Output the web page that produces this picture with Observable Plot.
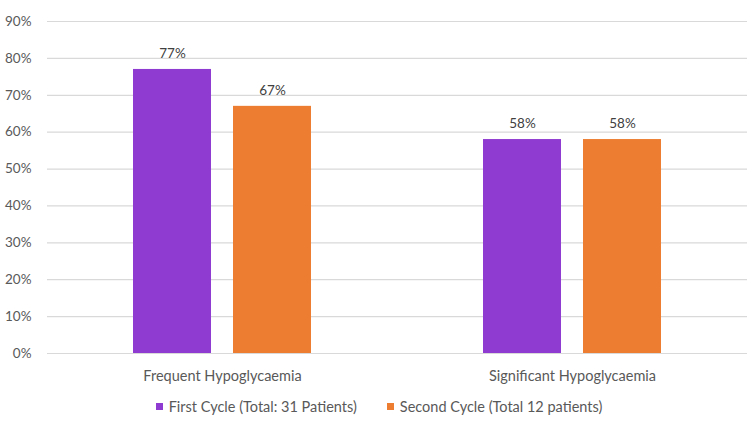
<!DOCTYPE html>
<html>
<head>
<meta charset="utf-8">
<script src="https://cdn.jsdelivr.net/npm/d3@7"></script>
<script src="https://cdn.jsdelivr.net/npm/@observablehq/plot@0.6"></script>
<style>
  html, body { margin: 0; padding: 0; background: #fff; }
  #chart { width: 750px; height: 421px; font-family: Lato, "Open Sans", sans-serif; }
  .legend { display: flex; justify-content: center; align-items: center; gap: 30px;
            height: 33px; font-size: 14.5px; color: #595959; padding-left: 8px; }
  .legend span.item { display: flex; align-items: center; gap: 6px; }
  .legend i { display: inline-block; width: 7px; height: 7px; }
</style>
</head>
<body>
<div id="chart"></div>
<script>
const categories = ["Frequent Hypoglycaemia", "Significant Hypoglycaemia"];
const seriesNames = ["First Cycle (Total: 31 Patients)", "Second Cycle (Total 12 patients)"];
const firstCycle = [0.77, 0.58];
const secondCycle = [0.67, 0.58];
const yTicks = [0, 0.1, 0.2, 0.3, 0.4, 0.5, 0.6, 0.7, 0.8, 0.9];
const colors = ["#8f3bd1", "#ed7d31"];

const rows = categories.flatMap((c, i) => [
  {category: c, series: seriesNames[0], value: firstCycle[i]},
  {category: c, series: seriesNames[1], value: secondCycle[i]}
]);

const pct = d => `${Math.round(d * 100)}%`;

const chart = Plot.plot({
  width: 750,
  height: 390,
  marginLeft: 47,
  marginRight: 3,
  marginTop: 21,
  marginBottom: 37,
  style: {fontFamily: "Lato, 'Open Sans', sans-serif", fontSize: "13.5px", color: "#595959", background: "#fff"},
  fx: {domain: categories, padding: 0, label: null},
  x: {domain: seriesNames, paddingInner: 0.22, paddingOuter: 0.86, axis: null},
  y: {domain: [0, 0.9], label: null},
  color: {domain: seriesNames, range: colors},
  marks: [
    Plot.gridY(yTicks, {stroke: "#d9d9d9", strokeOpacity: 1, strokeWidth: 1.2}),
    Plot.axisY(yTicks, {tickFormat: pct, tickSize: 0, tickPadding: 16, label: null, fill: "#595959"}),
    Plot.axisFx({anchor: "bottom", tickSize: 0, tickPadding: 17, label: null, fontSize: 14.5, fill: "#595959"}),
    Plot.barY(rows, {fx: "category", x: "series", y: "value", fill: "series"}),
    Plot.text(rows, {fx: "category", x: "series", y: "value", text: d => pct(d.value), dy: -16,
                     fill: "#404040", fontSize: 13.5})
  ]
});

const root = document.getElementById("chart");
root.appendChild(chart);

const legend = document.createElement("div");
legend.className = "legend";
seriesNames.forEach((name, i) => {
  const item = document.createElement("span");
  item.className = "item";
  const sw = document.createElement("i");
  sw.style.background = colors[i];
  item.appendChild(sw);
  item.appendChild(document.createTextNode(name));
  legend.appendChild(item);
});
root.appendChild(legend);
</script>
</body>
</html>
